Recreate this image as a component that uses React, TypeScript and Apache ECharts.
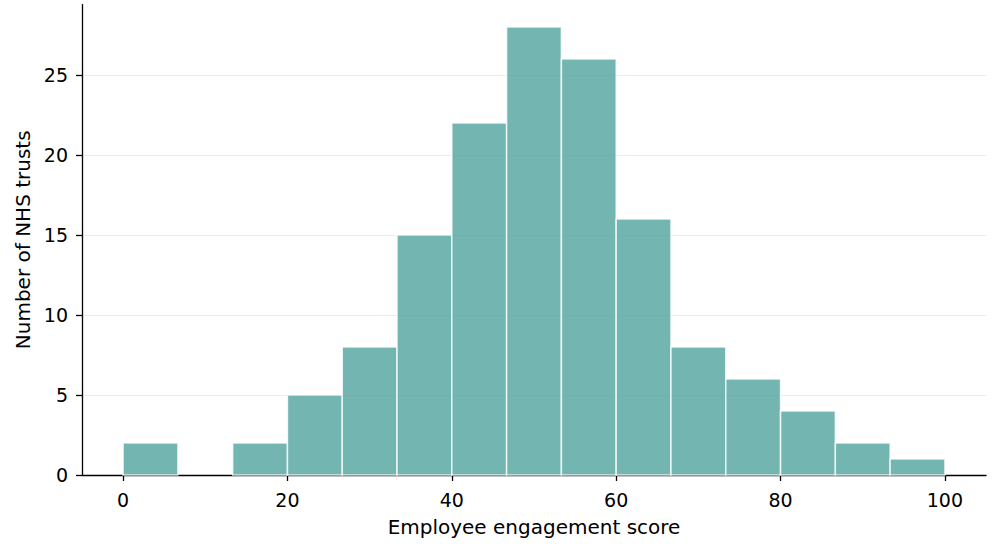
import React, { useEffect, useRef } from "react";
import * as echarts from "echarts";

const binEdges: number[] = [
  0, 6.667, 13.333, 20, 26.667, 33.333, 40, 46.667, 53.333, 60, 66.667, 73.333, 80, 86.667, 93.333, 100,
];
const counts: number[] = [2, 0, 2, 5, 8, 15, 22, 28, 26, 16, 8, 6, 4, 2, 1];
const xTicks: number[] = [0, 20, 40, 60, 80, 100];
const yTicks: number[] = [0, 5, 10, 15, 20, 25];
const xLabel = "Employee engagement score";
const yLabel = "Number of NHS trusts";

export default function App() {
  const ref = useRef<HTMLDivElement>(null);
  useEffect(() => {
    document.body.style.margin = "0";
    if (!ref.current) return;
    const chart = echarts.init(ref.current, null, { renderer: "svg" });
    const data = counts.map((c, i) => [binEdges[i], binEdges[i + 1], c]);
    const font = "DejaVu Sans";
    chart.setOption({
      animation: false,
      backgroundColor: "#ffffff",
      grid: { left: 82, right: 14, top: 4.6, bottom: 78, containLabel: false },
      xAxis: {
        type: "value",
        min: -5,
        max: 105,
        name: xLabel,
        nameLocation: "middle",
        nameGap: 42,
        nameTextStyle: { fontFamily: font, fontSize: 20, color: "#000" },
        axisLine: { show: true, onZero: false, lineStyle: { color: "#000", width: 1.3 } },
        axisTick: { show: true, length: 6, lineStyle: { color: "#000", width: 1.3 }, customValues: xTicks },
        axisLabel: { fontFamily: font, fontSize: 19, color: "#000", margin: 15, customValues: xTicks },
        splitLine: { show: false },
      },
      yAxis: {
        type: "value",
        min: 0,
        max: 29.4,
        name: yLabel,
        nameLocation: "middle",
        nameGap: 46,
        nameTextStyle: { fontFamily: font, fontSize: 20, color: "#000" },
        axisLine: { show: true, onZero: false, lineStyle: { color: "#000", width: 1.3 } },
        axisTick: { show: true, length: 6, lineStyle: { color: "#000", width: 1.3 }, customValues: yTicks },
        axisLabel: { fontFamily: font, fontSize: 19, color: "#000", margin: 14, customValues: yTicks },
        splitLine: { show: true, lineStyle: { color: "#ebebeb", width: 1 } },
      },
      series: [
        {
          type: "custom",
          data,
          renderItem: (params: any, api: any) => {
            const x0 = api.value(0);
            const x1 = api.value(1);
            const c = api.value(2);
            if (!c) return null;
            const p0 = api.coord([x0, c]);
            const p1 = api.coord([x1, 0]);
            return {
              type: "rect",
              shape: { x: p0[0], y: p0[1], width: p1[0] - p0[0], height: p1[1] - p0[1] },
              style: { fill: "#50a29c", opacity: 0.8, stroke: "#ffffff", lineWidth: 1.5 },
            };
          },
          encode: { x: [0, 1], y: 2 },
        },
      ],
    });
    return () => chart.dispose();
  }, []);
  return <div ref={ref} style={{ position: "fixed", left: 0, top: 0, width: 1000, height: 553 }} />;
}
